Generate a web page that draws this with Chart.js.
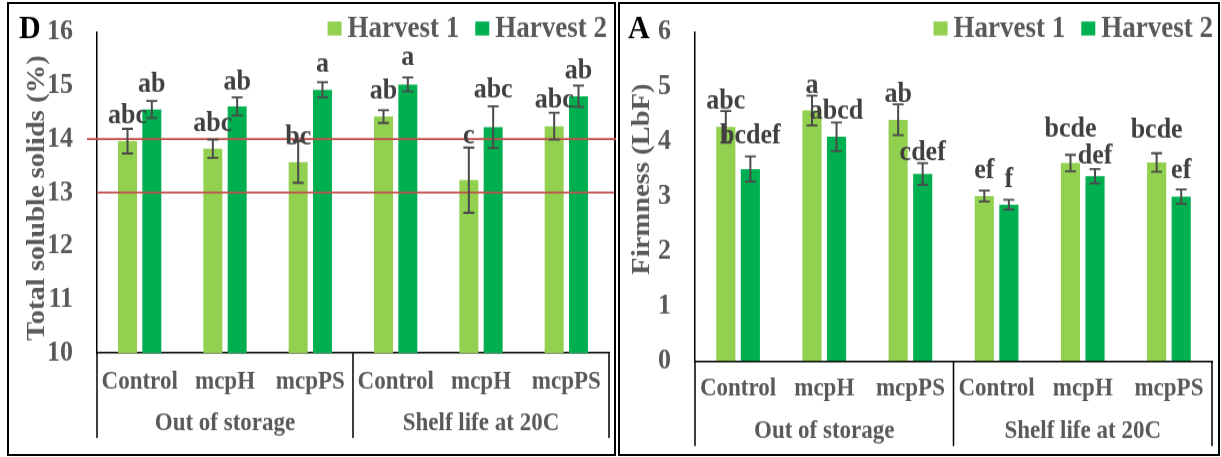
<!DOCTYPE html>
<html>
<head>
<meta charset="utf-8">
<script src="https://cdn.jsdelivr.net/npm/chart.js@4/dist/chart.umd.min.js"></script>
<style>
  html, body { margin: 0; padding: 0; background: #fff; width: 1221px; height: 457px; overflow: hidden; position: relative; }
  .frame { position: absolute; box-sizing: border-box; border: 2px solid #000; }
  canvas { position: absolute; top: 0; transform-origin: 0 0; }
</style>
</head>
<body>
<div class="frame" style="left:7px;top:2px;width:609px;height:454px"></div>
<div class="frame" style="left:618px;top:2px;width:602px;height:454px"></div>
<canvas id="tss"></canvas>
<canvas id="firm"></canvas>
<script>
// ---- data ----
const categories = ['Control', 'mcpH', 'mcpPS', 'Control', 'mcpH', 'mcpPS'];
const groups = ['Out of storage', 'Shelf life at 20C'];
const seriesNames = ['Harvest 1', 'Harvest 2'];

// Total soluble solids (%)
const tssH1 = [13.96, 13.82, 13.57, 14.42, 13.23, 14.24];
const tssH2 = [14.55, 14.61, 14.92, 15.02, 14.22, 14.80];
const tssErrH1 = [0.23, 0.17, 0.39, 0.12, 0.61, 0.25];
const tssErrH2 = [0.16, 0.17, 0.14, 0.13, 0.39, 0.20];
const tssLetH1 = ['abc', 'abc', 'bc', 'ab', 'c', 'abc'];
const tssLetH2 = ['ab', 'ab', 'a', 'a', 'abc', 'ab'];
const tssRefLines = [14, 13];
const tssTicks = [10, 11, 12, 13, 14, 15, 16];

// Firmness (LbF)
const firmH1 = [4.27, 4.57, 4.40, 3.01, 3.61, 3.62];
const firmH2 = [3.50, 4.09, 3.41, 2.85, 3.37, 3.00];
const firmErrH1 = [0.29, 0.27, 0.28, 0.10, 0.15, 0.17];
const firmErrH2 = [0.23, 0.26, 0.20, 0.09, 0.13, 0.13];
const firmLetH1 = ['abc', 'a', 'ab', 'ef', 'bcde', 'bcde'];
const firmLetH2 = ['bcdef', 'abcd', 'cdef', 'f', 'def', 'ef'];
const firmTicks = [0, 1, 2, 3, 4, 5, 6];

// ---- styling ----
const FONT = "'Liberation Serif', 'Times New Roman', serif";
const GREY = '#595959';
const LABEL_GREY = '#404040';
const COLORS = ['#92D050', '#00B050'];
const PAGE_H = 457;
const SY = 1.12;                       // vertical stretch of the figure
const CANVAS_H = Math.round(PAGE_H / SY);
const py = v => v * CANVAS_H / PAGE_H; // page y -> canvas y

// height of each letter label above its bar top (page px)
const tssLift = [[18, 18, 18, 18, 37, 19], [18, 17, 18, 19, 30, 18]];
const firmLift = [[18, 18, 18, 18, 26, 25], [26, 18, 14, 18, 13, 18]];

function panelPlugin(p) {
  return {
    id: 'panelDecor_' + p.id,
    afterDatasetsDraw(chart) {
      const ctx = chart.ctx;
      const ys = chart.scales.y;
      const area = chart.chartArea;
      ctx.save();
      // reference lines
      (p.refLines || []).forEach((v, i) => {
        const y = ys.getPixelForValue(v);
        ctx.strokeStyle = '#C0504D';
        ctx.lineWidth = 1.8;
        ctx.beginPath();
        ctx.moveTo(area.left - p.refOverhang[i], y);
        ctx.lineTo(p.refEnd[i], y);
        ctx.stroke();
      });
      // error bars
      ctx.strokeStyle = '#4a4a4a';
      [0, 1].forEach(di => {
        const meta = chart.getDatasetMeta(di);
        meta.data.forEach((bar, i) => {
          const v = p.values[di][i], e = p.errors[di][i];
          const yt = ys.getPixelForValue(v + e);
          const yb = ys.getPixelForValue(v - e);
          ctx.lineWidth = 2;
          ctx.beginPath();
          ctx.moveTo(bar.x, yt); ctx.lineTo(bar.x, yb);
          ctx.stroke();
          ctx.lineWidth = 1.8;
          ctx.beginPath();
          ctx.moveTo(bar.x - 5.5, yt); ctx.lineTo(bar.x + 5.5, yt);
          ctx.moveTo(bar.x - 5.5, yb); ctx.lineTo(bar.x + 5.5, yb);
          ctx.stroke();
        });
      });
      // significance letters
      ctx.fillStyle = LABEL_GREY;
      ctx.font = 'bold 26px ' + FONT;
      ctx.textAlign = 'center';
      ctx.textBaseline = 'alphabetic';
      [0, 1].forEach(di => {
        const meta = chart.getDatasetMeta(di);
        meta.data.forEach((bar, i) => {
          const y = ys.getPixelForValue(p.values[di][i]) - py(p.lift[di][i]);
          ctx.fillText(p.letters[di][i], bar.x, y);
        });
      });
      ctx.restore();
    },
    afterDraw(chart) {
      const ctx = chart.ctx;
      const xs = chart.scales.x;
      const area = chart.chartArea;
      ctx.save();
      // group separators below the axis
      const mid = (xs.getPixelForValue(2) + xs.getPixelForValue(3)) / 2;
      ctx.strokeStyle = '#000';
      ctx.lineWidth = 1.5;
      ctx.beginPath();
      [area.left, mid, area.right].forEach(x => {
        ctx.moveTo(x, area.bottom);
        ctx.lineTo(x, py(p.sepBottom));
      });
      ctx.stroke();
      // group labels
      ctx.fillStyle = GREY;
      ctx.font = 'bold 23px ' + FONT;
      ctx.textAlign = 'center';
      ctx.textBaseline = 'middle';
      ctx.fillText(groups[0], (area.left + mid) / 2, py(p.groupY));
      ctx.fillText(groups[1], (mid + area.right) / 2, py(p.groupY));
      // axis title
      ctx.save();
      ctx.translate(p.titleX, py(p.titleY));
      ctx.rotate(-Math.PI / 2);
      ctx.font = 'bold 25.5px ' + FONT;
      ctx.fillText(p.title, 0, 0);
      ctx.restore();
      // panel letter
      ctx.fillStyle = '#000';
      ctx.font = 'bold 30px ' + FONT;
      ctx.textAlign = 'left';
      ctx.textBaseline = 'alphabetic';
      ctx.fillText(p.letter, p.letterX, py(38));
      // legend
      ctx.font = 'bold 27px ' + FONT;
      const w1 = ctx.measureText(seriesNames[0]).width;
      const w2 = ctx.measureText(seriesNames[1]).width;
      const box = 14, gapIn = 6, gapOut = 16;
      let x = p.legendRight - w2 - gapIn - box - gapOut - w1 - gapIn - box;
      [[COLORS[0], seriesNames[0], w1], [COLORS[1], seriesNames[1], w2]].forEach(([c, t, w]) => {
        ctx.fillStyle = c;
        ctx.fillRect(x, py(21.5), box, py(box));
        x += box + gapIn;
        ctx.fillStyle = GREY;
        ctx.fillText(t, x, py(36.5));
        x += w + gapOut;
      });
      ctx.restore();
    }
  };
}

function buildPanel(p) {
  const el = document.getElementById(p.id);
  el.width = p.width;
  el.height = CANVAS_H;
  el.style.left = p.left + 'px';
  el.style.width = p.width + 'px';
  el.style.height = CANVAS_H + 'px';
  el.style.transform = 'scaleY(' + (PAGE_H / CANVAS_H) + ')';
  return new Chart(el, {
    type: 'bar',
    data: {
      labels: categories,
      datasets: [
        { label: seriesNames[0], data: p.values[0], backgroundColor: COLORS[0] },
        { label: seriesNames[1], data: p.values[1], backgroundColor: COLORS[1] }
      ]
    },
    options: {
      responsive: false,
      animation: false,
      devicePixelRatio: 1,
      layout: { autoPadding: false, padding: { left: 0, right: p.padRight, top: py(p.top), bottom: 0 } },
      datasets: { bar: { categoryPercentage: 0.57, barPercentage: 0.78 } },
      plugins: { legend: { display: false }, tooltip: { enabled: false } },
      scales: {
        x: {
          grid: { display: false, drawTicks: false },
          border: { display: true, color: '#000', width: 1.5 },
          ticks: {
            color: GREY, autoSkip: false, maxRotation: 0, padding: py(p.xPad),
            font: { family: FONT, size: 23, weight: 'bold' }
          },
          afterFit(s) { s.height = CANVAS_H - py(p.bottom); s.paddingLeft = 0; s.paddingRight = 0; }
        },
        y: {
          min: p.ticks[0], max: p.ticks[p.ticks.length - 1],
          grid: { display: false, drawTicks: false },
          border: { display: true, color: '#000', width: 1.5 },
          afterBuildTicks(s) { s.ticks = p.ticks.map(v => ({ value: v })); },
          ticks: {
            color: GREY, padding: 24,
            font: { family: FONT, size: 26, weight: 'bold' }
          },
          // fixed axis width; the plot top is set by layout padding alone
          afterFit(s) { s.width = p.yWidth; s.paddingTop = 0; s.paddingBottom = 0; }
        }
      }
    },
    plugins: [panelPlugin(p)]
  });
}

buildPanel({
  id: 'tss', left: 0, width: 616,
  values: [tssH1, tssH2], errors: [tssErrH1, tssErrH2],
  letters: [tssLetH1, tssLetH2], lift: tssLift, ticks: tssTicks,
  refLines: tssRefLines, refOverhang: [10, 0], refEnd: [616, 614],
  yWidth: 97, padRight: 7, top: 32, bottom: 353, xPad: 14,
  sepBottom: 438, groupY: 423,
  title: 'Total soluble solids (%)', titleX: 37, titleY: 198,
  letter: 'D', letterX: 19, legendRight: 607
});

buildPanel({
  id: 'firm', left: 616, width: 605,
  values: [firmH1, firmH2], errors: [firmErrH1, firmErrH2],
  letters: [firmLetH1, firmLetH2], lift: firmLift, ticks: firmTicks,
  refLines: [], refOverhang: [], refEnd: [],
  yWidth: 79, padRight: 9, top: 32, bottom: 361, xPad: 12,
  sepBottom: 446, groupY: 431,
  title: 'Firmness (LbF)', titleX: 26, titleY: 179,
  letter: 'A', letterX: 12, legendRight: 597
});
</script>
</body>
</html>
